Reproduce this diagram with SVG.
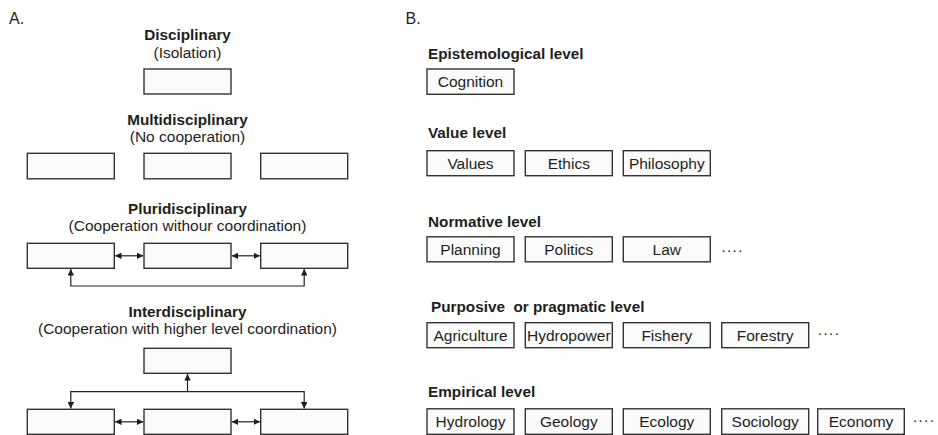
<svg xmlns="http://www.w3.org/2000/svg" width="938" height="435" viewBox="0 0 938 435">
  <style>
    .bg { fill: #ffffff; }
    .box { fill: #fbfbfb; stroke: #333333; stroke-width: 1.4; }
    .t { font-family: "Liberation Sans", Arial, sans-serif; fill: #1e1e1e; }
    .h { font-size: 15.3px; font-weight: bold; }
    .s { font-size: 15.5px; }
    .c { text-anchor: middle; }
    .lab { font-size: 16px; }
    .con { fill: none; stroke: #222222; stroke-width: 1.2; }
    .dots { font-size: 15.5px; letter-spacing: 0.4px; }
    .pre { white-space: pre; }
  </style>
  <defs>
    <marker id="ah" viewBox="0 0 10 10" refX="10" refY="5" markerWidth="6.5" markerHeight="6.5" markerUnits="userSpaceOnUse" orient="auto-start-reverse">
      <path d="M0,0 L10,5 L0,10 z" fill="#1e1e1e"/>
    </marker>
  </defs>
  <rect class="bg" x="0" y="0" width="938" height="435"/>

  <!-- Panel A -->
  <g id="panelA-label"><text class="t lab" x="9" y="23.5">A.</text></g>

  <g id="disciplinary">
    <text class="t h c" x="187.5" y="40.3">Disciplinary</text>
    <text class="t s c" x="187.5" y="58">(Isolation)</text>
    <rect class="box" x="144" y="69" width="87" height="25"/>
  </g>

  <g id="multidisciplinary">
    <text class="t h c" x="187.5" y="124.5">Multidisciplinary</text>
    <text class="t s c" x="187.5" y="142.3">(No cooperation)</text>
    <rect class="box" x="27.3" y="153.3" width="87" height="25.5"/>
    <rect class="box" x="144" y="153.3" width="87" height="25.5"/>
    <rect class="box" x="260.7" y="153.3" width="87" height="25.5"/>
  </g>

  <g id="pluridisciplinary">
    <text class="t h c" x="187.5" y="213.5">Pluridisciplinary</text>
    <text class="t s c" x="187.5" y="231.3">(Cooperation withour coordination)</text>
    <rect class="box" x="27.3" y="243.3" width="87" height="25"/>
    <rect class="box" x="144" y="243.3" width="87" height="25"/>
    <rect class="box" x="260.7" y="243.3" width="87" height="25"/>
  </g>

  <g id="interdisciplinary">
    <text class="t h c" x="187.5" y="316.5">Interdisciplinary</text>
    <text class="t s c" x="187.5" y="334.3">(Cooperation with higher level coordination)</text>
    <rect class="box" x="144" y="348.3" width="87" height="25"/>
    <rect class="box" x="27.3" y="409.3" width="87" height="25"/>
    <rect class="box" x="144" y="409.3" width="87" height="25"/>
    <rect class="box" x="260.7" y="409.3" width="87" height="25"/>
  </g>

  <g id="connectors">
    <!-- Pluridisciplinary -->
    <line class="con" x1="115" y1="255.8" x2="143.3" y2="255.8" marker-start="url(#ah)" marker-end="url(#ah)"/>
    <line class="con" x1="231.7" y1="255.8" x2="260" y2="255.8" marker-start="url(#ah)" marker-end="url(#ah)"/>
    <path class="con" d="M70.8,269 V286 H304.2 V269" marker-start="url(#ah)" marker-end="url(#ah)"/>
    <!-- Interdisciplinary -->
    <line class="con" x1="187.5" y1="391.7" x2="187.5" y2="374" marker-end="url(#ah)"/>
    <path class="con" d="M70.8,408.6 V391.7 H304.2 V408.6" marker-start="url(#ah)" marker-end="url(#ah)"/>
    <line class="con" x1="115" y1="421.8" x2="143.3" y2="421.8" marker-start="url(#ah)" marker-end="url(#ah)"/>
    <line class="con" x1="231.7" y1="421.8" x2="260" y2="421.8" marker-start="url(#ah)" marker-end="url(#ah)"/>
  </g>

  <!-- Panel B -->
  <g id="panelB-label"><text class="t lab" x="405.5" y="23.8">B.</text></g>

  <g id="epistemological">
    <text class="t h" x="428" y="59">Epistemological level</text>
    <rect class="box" x="427" y="69" width="87" height="25.3"/>
    <text class="t s c" x="470.5" y="86.8">Cognition</text>
  </g>

  <g id="value">
    <text class="t h" x="428" y="138">Value level</text>
    <rect class="box" x="427" y="150.7" width="87" height="25"/>
    <text class="t s c" x="470.5" y="168.5">Values</text>
    <rect class="box" x="525.3" y="150.7" width="87" height="25"/>
    <text class="t s c" x="568.8" y="168.5">Ethics</text>
    <rect class="box" x="623.3" y="150.7" width="87" height="25"/>
    <text class="t s c" x="666.8" y="168.5">Philosophy</text>
  </g>

  <g id="normative">
    <text class="t h" x="428" y="227">Normative level</text>
    <rect class="box" x="427" y="236.8" width="87" height="25"/>
    <text class="t s c" x="470.5" y="254.6">Planning</text>
    <rect class="box" x="525.3" y="236.8" width="87" height="25"/>
    <text class="t s c" x="568.8" y="254.6">Politics</text>
    <rect class="box" x="623.3" y="236.8" width="87" height="25"/>
    <text class="t s c" x="666.8" y="254.6">Law</text>
    <text class="t dots" x="721" y="254.5">····</text>
  </g>

  <g id="purposive">
    <text class="t h pre" xml:space="preserve" x="431" y="312.3">Purposive  or pragmatic level</text>
    <rect class="box" x="427" y="322.7" width="87" height="25"/>
    <text class="t s c" x="470.5" y="340.5">Agriculture</text>
    <rect class="box" x="525.3" y="322.7" width="87" height="25"/>
    <text class="t s c" x="568.8" y="340.5">Hydropower</text>
    <rect class="box" x="623.3" y="322.7" width="87" height="25"/>
    <text class="t s c" x="666.8" y="340.5">Fishery</text>
    <rect class="box" x="721.7" y="322.7" width="87" height="25"/>
    <text class="t s c" x="765.2" y="340.5">Forestry</text>
    <text class="t dots" x="817.5" y="337.5">····</text>
  </g>

  <g id="empirical">
    <text class="t h" x="428" y="396.7">Empirical level</text>
    <rect class="box" x="427" y="408.8" width="87" height="25.5"/>
    <text class="t s c" x="470.5" y="426.8">Hydrology</text>
    <rect class="box" x="525.3" y="408.8" width="87" height="25.5"/>
    <text class="t s c" x="568.8" y="426.8">Geology</text>
    <rect class="box" x="623.3" y="408.8" width="87" height="25.5"/>
    <text class="t s c" x="666.8" y="426.8">Ecology</text>
    <rect class="box" x="721.7" y="408.8" width="87" height="25.5"/>
    <text class="t s c" x="765.2" y="426.8">Sociology</text>
    <rect class="box" x="817.7" y="408.8" width="86.6" height="25.5"/>
    <text class="t s c" x="861" y="426.8">Economy</text>
    <text class="t dots" x="912.5" y="424.5">····</text>
  </g>
</svg>
